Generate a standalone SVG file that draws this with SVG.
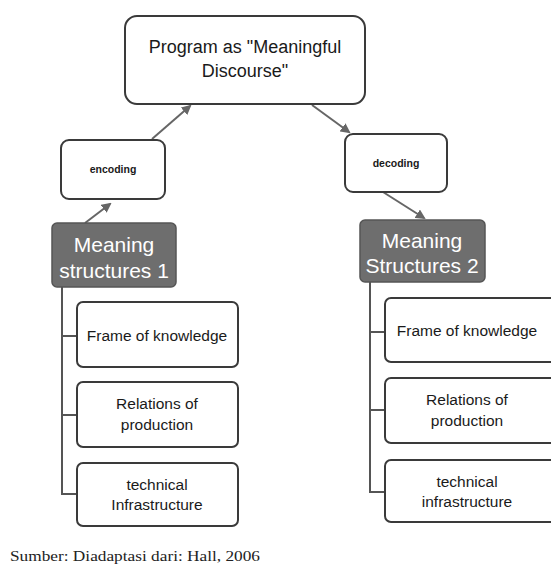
<svg xmlns="http://www.w3.org/2000/svg" width="551" height="565" viewBox="0 0 551 565">
<defs>
<style>
.box{fill:#fff;stroke:#3a3a3a;stroke-width:2}
.dark{fill:#6e6e6e;stroke:#555;stroke-width:1.5}
.t{font-family:"Liberation Sans",Arial,sans-serif;fill:#1a1a1a;text-anchor:middle}
.w{font-family:"Liberation Sans",Arial,sans-serif;fill:#fff;text-anchor:middle;font-size:21px}
.s{font-size:15.5px}
.ln{stroke:#555;stroke-width:2;fill:none}
.ar{stroke:#666;stroke-width:2;fill:none;marker-end:url(#ah)}
</style>
<marker id="ah" markerWidth="10" markerHeight="10" refX="8" refY="5" orient="auto" markerUnits="userSpaceOnUse">
<path d="M0,0 L10,5 L0,10 z" fill="#666"/>
</marker>
</defs>
<rect width="551" height="565" fill="#fff"/>
<g id="connectors">
<line class="ar" x1="152" y1="139" x2="190" y2="106"/>
<line class="ar" x1="312" y1="105" x2="349" y2="132"/>
<line class="ar" x1="85" y1="223" x2="110" y2="204"/>
<line class="ar" x1="383" y1="192" x2="424" y2="218"/>
<path class="ln" d="M62,287 V494 H77 M62,336 H77 M62,415 H77"/>
<path class="ln" d="M370,282 V492 H385 M370,332 H385 M370,410 H385"/>
</g>
<g id="program">
<rect class="box" x="125" y="16" width="240" height="88" rx="12"/>
<text class="t" x="245" y="53" font-size="18">Program as "Meaningful</text>
<text class="t" x="245" y="77" font-size="18">Discourse"</text>
</g>
<g id="encoding">
<rect class="box" x="61" y="140" width="104" height="59" rx="8"/>
<text class="t" x="113" y="173" font-size="10.5" font-weight="bold">encoding</text>
</g>
<g id="decoding">
<rect class="box" x="345" y="134" width="102" height="58" rx="8"/>
<text class="t" x="396" y="167" font-size="10.5" font-weight="bold">decoding</text>
</g>
<g id="ms1">
<rect class="dark" x="52" y="223" width="124" height="64" rx="5"/>
<text class="w" x="114" y="252">Meaning</text>
<text class="w" x="114" y="278">structures 1</text>
</g>
<g id="ms2">
<rect class="dark" x="360" y="220" width="125" height="62" rx="5"/>
<text class="w" x="422" y="248">Meaning</text>
<text class="w" x="422" y="273">Structures 2</text>
</g>
<g id="l-frame">
<rect class="box" x="77" y="302" width="161" height="65" rx="6"/>
<text class="t s" x="157" y="341">Frame of knowledge</text>
</g>
<g id="l-rel">
<rect class="box" x="77" y="382" width="161" height="65" rx="6"/>
<text class="t s" x="157" y="409">Relations of</text>
<text class="t s" x="157" y="430">production</text>
</g>
<g id="l-tech">
<rect class="box" x="77" y="463" width="161" height="63" rx="6"/>
<text class="t s" x="157" y="490">technical</text>
<text class="t s" x="157" y="510">Infrastructure</text>
</g>
<g id="r-frame">
<rect class="box" x="385" y="298" width="175" height="64" rx="6"/>
<text class="t s" x="467" y="336">Frame of knowledge</text>
</g>
<g id="r-rel">
<rect class="box" x="385" y="378" width="175" height="65" rx="6"/>
<text class="t s" x="467" y="405">Relations of</text>
<text class="t s" x="467" y="426">production</text>
</g>
<g id="r-tech">
<rect class="box" x="385" y="460" width="175" height="62" rx="6"/>
<text class="t s" x="467" y="487">technical</text>
<text class="t s" x="467" y="507">infrastructure</text>
</g>
<text x="10" y="561" font-family="Liberation Serif,Times New Roman,serif" font-size="15" fill="#222" textLength="250" lengthAdjust="spacingAndGlyphs">Sumber: Diadaptasi dari: Hall, 2006</text>
</svg>
